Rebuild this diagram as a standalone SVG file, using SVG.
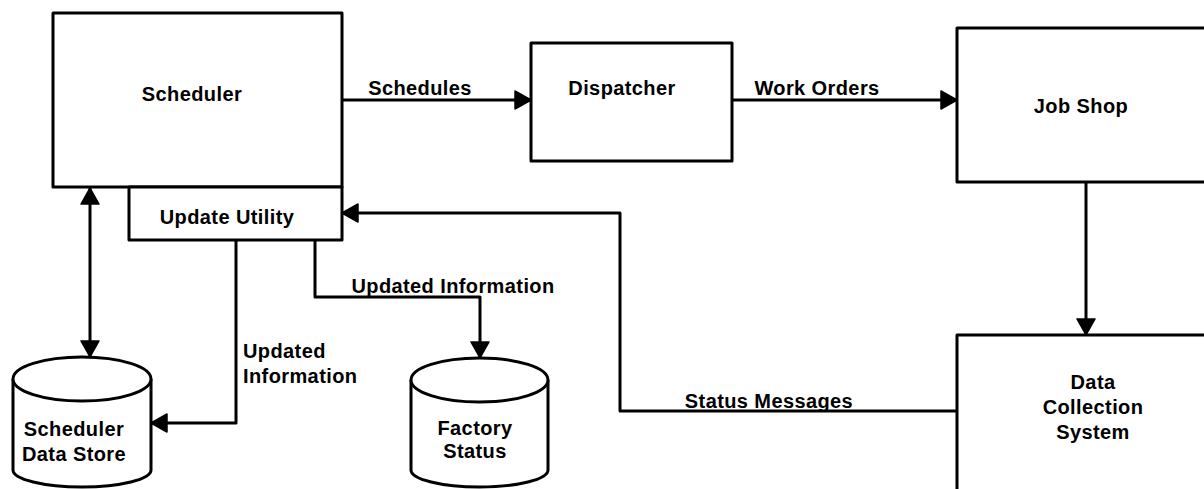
<svg xmlns="http://www.w3.org/2000/svg" width="1204" height="489" viewBox="0 0 1204 489">
  <style>
    .box { fill: #ffffff; stroke: #000000; stroke-width: 3; stroke-linejoin: round; }
    .wire { fill: none; stroke: #000000; stroke-width: 3; stroke-linejoin: round; }
    .lbl { font-family: "Liberation Sans", Arial, sans-serif; font-weight: bold; font-size: 20px; fill: #000000; letter-spacing: 0.4px; }
    .mid { text-anchor: middle; }
  </style>
  <defs>
    <marker id="arrow" viewBox="0 0 18 20" refX="17" refY="10" markerWidth="18" markerHeight="20" markerUnits="userSpaceOnUse" orient="auto-start-reverse">
      <path d="M1,1 L17,10 L1,19 Z" fill="#000000" stroke="#000000" stroke-width="1.5" stroke-linejoin="round"/>
    </marker>
  </defs>
  <rect width="1204" height="489" fill="#ffffff"/>

  <g id="connectors">
    <path class="wire" d="M342,100 L531,100" marker-end="url(#arrow)"/>
    <path class="wire" d="M732,100 L957,100" marker-end="url(#arrow)"/>
    <path class="wire" d="M1086,182 L1086,335" marker-end="url(#arrow)"/>
    <path class="wire" d="M957,411 L620,411 L620,213 L342,213" marker-end="url(#arrow)"/>
    <path class="wire" d="M90,188 L90,357" marker-start="url(#arrow)" marker-end="url(#arrow)"/>
    <path class="wire" d="M236,240 L236,423 L151,423" marker-end="url(#arrow)"/>
    <path class="wire" d="M315,240 L315,297 L480,297 L480,358" marker-end="url(#arrow)"/>
    <text class="lbl mid" x="420" y="95">Schedules</text>
    <text class="lbl mid" x="817" y="95">Work Orders</text>
    <text class="lbl mid" x="769" y="408">Status Messages</text>
    <text class="lbl mid" x="453" y="293">Updated Information</text>
    <text class="lbl" x="243" y="358">Updated</text>
    <text class="lbl" x="243" y="383">Information</text>
  </g>

  <g id="scheduler">
    <rect class="box" x="53" y="13" width="289" height="174"/>
    <text class="lbl mid" x="192" y="101">Scheduler</text>
  </g>

  <g id="update-utility">
    <rect class="box" x="129" y="187" width="213" height="53"/>
    <text class="lbl mid" x="227" y="224">Update Utility</text>
  </g>

  <g id="dispatcher">
    <rect class="box" x="531" y="43" width="201" height="118"/>
    <text class="lbl mid" x="622" y="95">Dispatcher</text>
  </g>

  <g id="job-shop">
    <rect class="box" x="957" y="28" width="260" height="154"/>
    <text class="lbl mid" x="1081" y="113">Job Shop</text>
  </g>

  <g id="data-collection-system">
    <rect class="box" x="957" y="335" width="260" height="170"/>
    <text class="lbl mid" x="1093" y="389">Data</text>
    <text class="lbl mid" x="1093" y="414">Collection</text>
    <text class="lbl mid" x="1093" y="439">System</text>
  </g>

  <g id="scheduler-data-store">
    <path class="box" d="M13,379 L13,470 A69,17 0 0 0 151,470 L151,379"/>
    <ellipse class="box" cx="82" cy="379" rx="69" ry="22"/>
    <text class="lbl mid" x="74" y="436">Scheduler</text>
    <text class="lbl mid" x="74" y="461">Data Store</text>
  </g>

  <g id="factory-status">
    <path class="box" d="M411,380 L411,470 A68.5,17 0 0 0 548,470 L548,380"/>
    <ellipse class="box" cx="479.5" cy="380" rx="68.5" ry="22"/>
    <text class="lbl mid" x="475" y="435">Factory</text>
    <text class="lbl mid" x="475" y="458">Status</text>
  </g>
</svg>
